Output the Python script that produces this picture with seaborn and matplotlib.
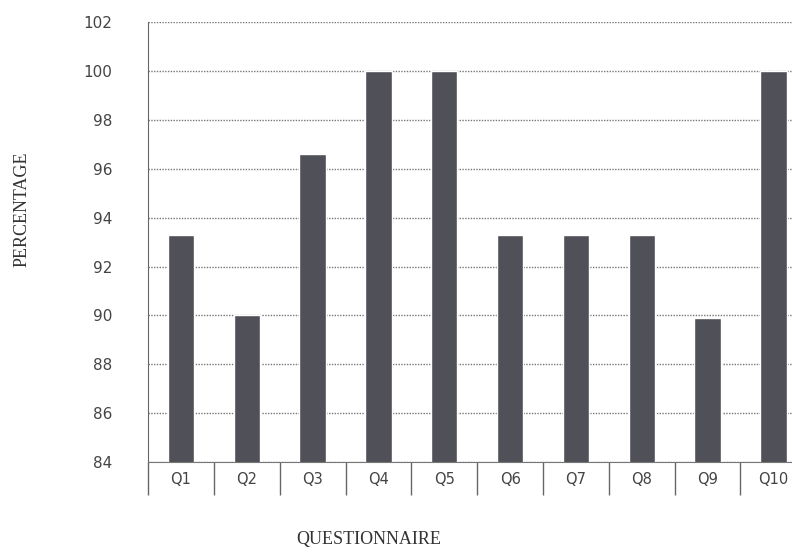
import pandas as pd
import matplotlib.pyplot as plt
import seaborn as sns
import numpy as np

# Values
questions = ["Q1", "Q2", "Q3", "Q4", "Q5", "Q6", "Q7", "Q8", "Q9", "Q10"]
percentage = [93.3, 90.0, 96.6, 100.0, 100.0, 93.3, 93.3, 93.3, 89.9, 100.0]
y_ticks = [84, 86, 88, 90, 92, 94, 96, 98, 100, 102]

df = pd.DataFrame({"question": questions, "percentage": percentage})

sns.set_style("white")
plt.rcParams["font.family"] = ["DejaVu Sans"]
fig = plt.figure(figsize=(7.92, 5.54), dpi=100)
# axes runs past the right edge, like the cropped scan
ax = fig.add_axes([0.187, 0.166, 0.831, 0.794])

sns.barplot(data=df, x="question", y="percentage", color="#505058",
            width=0.4, saturation=1, ax=ax)

ax.set_ylim(84, 102)
ax.set_xlim(-0.5, len(questions) - 0.5)
ax.set_yticks(y_ticks)
ax.set_yticklabels([str(t) for t in y_ticks], fontsize=11, color="#444444")
ax.set_xticks(range(len(questions)))
ax.set_xticklabels(questions, fontsize=10.5, color="#444444")

# category separators below the axis
ax.set_xticks(np.arange(-0.5, len(questions) - 0.5, 1.0), minor=True)
ax.tick_params(axis="x", which="both", bottom=True)
ax.tick_params(axis="x", which="major", length=0, pad=7)
ax.tick_params(axis="x", which="minor", length=24, width=1, color="#666666")
ax.tick_params(axis="y", left=False, pad=22)

ax.yaxis.grid(True, linestyle=(0, (1, 1)), color="#777777", linewidth=1)
ax.set_axisbelow(True)
for side in ["top", "right"]:
    ax.spines[side].set_visible(False)
ax.spines["left"].set_color("#666666")
ax.spines["bottom"].set_color("#777777")
ax.set_xlabel("")
ax.set_ylabel("")

fig.text(0.028, 0.622, "PERCENTAGE", rotation=90, ha="center", va="center",
         fontsize=13, color="#333333", family="Liberation Serif")
fig.text(0.465, 0.027, "QUESTIONNAIRE", ha="center", va="center",
         fontsize=13, color="#333333", family="Liberation Serif")

fig.savefig("out.png", dpi=100)
